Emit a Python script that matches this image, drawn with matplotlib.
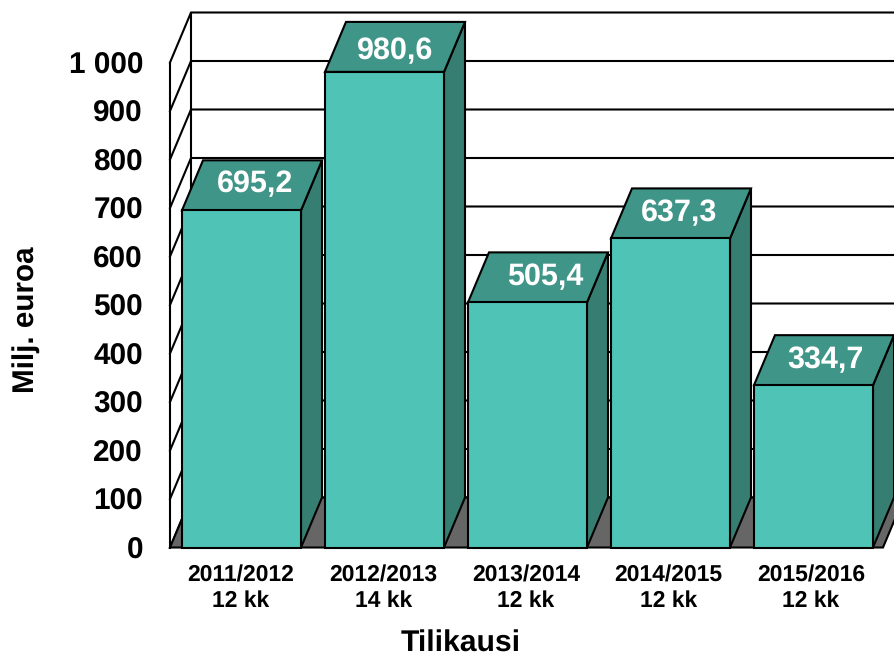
import matplotlib
matplotlib.use("Agg")
import matplotlib.pyplot as plt
from matplotlib.patches import Polygon

plt.rcParams['font.family'] = ['Liberation Sans', 'DejaVu Sans']
plt.rcParams['text.hinting'] = 'no_hinting'

periods = ['2011/2012\n12 kk', '2012/2013\n14 kk', '2013/2014\n12 kk', '2014/2015\n12 kk', '2015/2016\n12 kk']
values = [695.2, 980.6, 505.4, 637.3, 334.7]
value_labels = ['695,2', '980,6', '505,4', '637,3', '334,7']
y_ticks = [0, 100, 200, 300, 400, 500, 600, 700, 800, 900, 1000]
y_tick_labels = ['0', '100', '200', '300', '400', '500', '600', '700', '800', '900', '1 000']

FRONT = '#50c3b7'
TOP = '#3f9587'
SIDE = '#367d72'
FLOOR = '#666666'
LW = 1.5

# px scale of the original: one category = 143 px, 100 units = 48.5 px
px_x = 143.0
px_y = 0.485
bar_w = 119 / px_x
dx = 21 / px_x    # depth of the 3d effect
dy = 50 / px_y
left = -71.5 / px_x      # front left corner of the floor
right = 641.5 / px_x     # front right corner of the floor
ymax = y_ticks[-1]

# value labels are not centred the same way on each top face (px)
label_shift_x = [13.5, 10.5, 17.5, 8.5, 11.5]
label_shift_y = [-1, 4, 0, 0, 0]

fig = plt.figure(figsize=(8.95, 6.56), dpi=100)
ax = fig.add_axes([0, 0, 1, 1])
ax.set_xlim(-241.5 / px_x, (895 - 241.5) / px_x)
ax.set_ylim(-(656 - 547.5) / px_y, 547.5 / px_y)
ax.axis('off')

# walls and grid
for v in y_ticks:
    ax.plot([left, left + dx, right + dx], [v, v + dy, v + dy], color='black', lw=LW, zorder=1)
ax.plot([left, left], [0, ymax], color='black', lw=LW, zorder=1)
ax.plot([left + dx, left + dx], [dy, ymax + dy], color='black', lw=LW, zorder=1)

# floor
ax.add_patch(Polygon([(left, 0), (left + dx, dy), (right + dx, dy), (right, 0)],
                     facecolor=FLOOR, edgecolor='black', lw=LW, zorder=2))

for i, v in enumerate(values):
    x0 = i - bar_w / 2
    x1 = i + bar_w / 2
    z = 3 + i
    ax.add_patch(Polygon([(x1, 0), (x1 + dx, dy), (x1 + dx, v + dy), (x1, v)],
                         facecolor=SIDE, edgecolor='black', lw=LW, zorder=z))
    ax.add_patch(Polygon([(x0, v), (x0 + dx, v + dy), (x1 + dx, v + dy), (x1, v)],
                         facecolor=TOP, edgecolor='black', lw=LW, zorder=z))
    ax.add_patch(Polygon([(x0, 0), (x0, v), (x1, v), (x1, 0)],
                         facecolor=FRONT, edgecolor='black', lw=LW, zorder=z))
    ax.text(i + label_shift_x[i] / px_x, v + dy / 2 - label_shift_y[i] / px_y, value_labels[i],
            color='white', fontsize=22, fontweight='bold', ha='center', va='center', zorder=20)
    ax.text(i - (0.5 + 0.5 * i) / px_x, -35, periods[i], color='black', fontsize=16.5,
            fontweight='bold', ha='center', va='top', linespacing=1.25)

for v, lab in zip(y_ticks, y_tick_labels):
    ax.text(-98.5 / px_x, v - 7, lab, color='black', fontsize=21.4, fontweight='bold',
            ha='right', va='center')

ax.text(1.531, -198, 'Tilikausi', fontsize=21.7, fontweight='bold', ha='center', va='center')
ax.text(-215.5 / px_x, 470, 'Milj. euroa', fontsize=21.3, fontweight='bold', rotation=90,
        ha='center', va='center')

fig.savefig('out.png', dpi=100)
